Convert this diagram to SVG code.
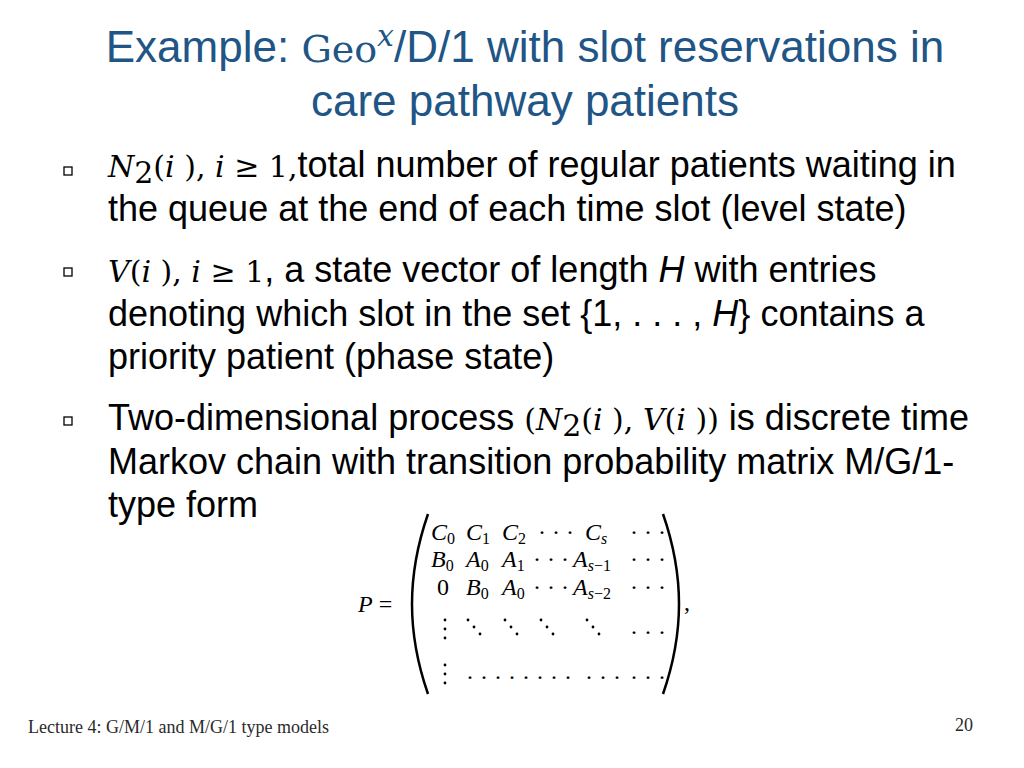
<svg xmlns="http://www.w3.org/2000/svg" width="1024" height="768" viewBox="0 0 1024 768">
<style>
.t{font-family:"Liberation Sans",Arial,sans-serif;font-size:44px;fill:#215586}
.b{font-family:"Liberation Sans",Arial,sans-serif;font-size:36px;fill:#000}
.m{font-family:"DejaVu Serif","Liberation Serif",serif;font-style:italic;font-size:30px}
.mu{font-family:"DejaVu Serif","Liberation Serif",serif;font-size:30px}
.x{font-family:"Liberation Serif","Times New Roman",serif;font-size:24px;fill:#000}
.i{font-style:italic}
.s{font-size:16px}
.f{font-family:"Liberation Serif","Times New Roman",serif;font-size:18px;fill:#2a2a2a}
.bul{fill:#fff;stroke:#000;stroke-width:1.3}
</style>
<rect width="1024" height="768" fill="#fff"/>
<text class="t" x="525" y="62" text-anchor="middle">Example: <tspan font-family="DejaVu Serif,serif" font-size="38">Geo</tspan><tspan font-family="DejaVu Serif,serif" font-style="italic" font-size="30" dy="-16">x</tspan><tspan dy="16">/D/1 with slot reservations in</tspan></text>
<text class="t" x="525" y="116" text-anchor="middle">care pathway patients</text>
<rect class="bul" x="64" y="167" width="8" height="8"/>
<rect class="bul" x="64" y="268" width="8" height="8"/>
<rect class="bul" x="64" y="417" width="8" height="8"/>
<text class="b" x="108" y="177"><tspan class="m">N</tspan><tspan class="mu" font-size="21" dy="6">2</tspan><tspan class="mu" dy="-6">(</tspan><tspan class="m">i</tspan><tspan class="mu"> ), </tspan><tspan class="m">i</tspan><tspan class="mu">  ≥  1,</tspan>total number of regular patients waiting in</text>
<text class="b" x="108" y="221">the queue at the end of each time slot (level state)</text>
<text class="b" x="108" y="282"><tspan class="m">V</tspan><tspan class="mu">(</tspan><tspan class="m">i</tspan><tspan class="mu"> ), </tspan><tspan class="m">i</tspan><tspan class="mu">  ≥  1</tspan>, a state vector of length <tspan font-style="italic">H</tspan> with entries</text>
<text class="b" x="108" y="326">denoting which slot in the set {1, . . . , <tspan font-style="italic">H</tspan>} contains a</text>
<text class="b" x="108" y="369">priority patient (phase state)</text>
<text class="b" x="108" y="430">Two-dimensional process <tspan class="mu">(</tspan><tspan class="m">N</tspan><tspan class="mu" font-size="21" dy="6">2</tspan><tspan class="mu" dy="-6">(</tspan><tspan class="m">i</tspan><tspan class="mu"> ), </tspan><tspan class="m">V</tspan><tspan class="mu">(</tspan><tspan class="m">i</tspan><tspan class="mu"> ))</tspan> is discrete time</text>
<text class="b" x="108" y="474">Markov chain with transition probability matrix M/G/1-</text>
<text class="b" x="108" y="517">type form</text>
<g id="matrix">
<text class="x" x="358" y="612"><tspan class="i">P</tspan> =</text>
<path d="M428,514 Q412,560 412,604 Q412,648 428,694" fill="none" stroke="#000" stroke-width="2.5"/>
<path d="M663,514 Q679,560 679,604 Q679,648 663,694" fill="none" stroke="#000" stroke-width="2.5"/>
<text class="x" x="684" y="610">,</text>
<text class="x" y="540"><tspan x="431" class="i">C</tspan><tspan class="s" dy="4">0</tspan><tspan x="466" dy="-4" class="i">C</tspan><tspan class="s" dy="4">1</tspan><tspan x="502" dy="-4" class="i">C</tspan><tspan class="s" dy="4">2</tspan><tspan x="538" dy="-4">· · ·</tspan><tspan x="585" class="i">C</tspan><tspan class="s i" dy="4">s</tspan><tspan x="630" dy="-4">· · ·</tspan></text>
<text class="x" y="567"><tspan x="431" class="i">B</tspan><tspan class="s" dy="4">0</tspan><tspan x="466" dy="-4" class="i">A</tspan><tspan class="s" dy="4">0</tspan><tspan x="502" dy="-4" class="i">A</tspan><tspan class="s" dy="4">1</tspan><tspan x="533" dy="-4">· · ·</tspan><tspan x="573" class="i">A</tspan><tspan class="s" dy="4"><tspan class="i">s</tspan>−1</tspan><tspan x="630" dy="-4">· · ·</tspan></text>
<text class="x" y="595"><tspan x="437">0</tspan><tspan x="466" class="i">B</tspan><tspan class="s" dy="4">0</tspan><tspan x="502" dy="-4" class="i">A</tspan><tspan class="s" dy="4">0</tspan><tspan x="533" dy="-4">· · ·</tspan><tspan x="573" class="i">A</tspan><tspan class="s" dy="4"><tspan class="i">s</tspan>−2</tspan><tspan x="630" dy="-4">· · ·</tspan></text>
<g fill="#000">
<circle cx="445" cy="620" r="1.4"/><circle cx="445" cy="629" r="1.4"/><circle cx="445" cy="638" r="1.4"/>
<circle cx="468" cy="620" r="1.4"/><circle cx="474" cy="627" r="1.4"/><circle cx="480" cy="634" r="1.4"/>
<circle cx="505" cy="620" r="1.4"/><circle cx="511" cy="627" r="1.4"/><circle cx="517" cy="634" r="1.4"/>
<circle cx="541" cy="620" r="1.4"/><circle cx="547" cy="627" r="1.4"/><circle cx="553" cy="634" r="1.4"/>
<circle cx="587" cy="620" r="1.4"/><circle cx="593" cy="627" r="1.4"/><circle cx="599" cy="634" r="1.4"/>
<circle cx="445" cy="665" r="1.4"/><circle cx="445" cy="674" r="1.4"/><circle cx="445" cy="683" r="1.4"/>
</g>
<text class="x" x="630" y="640">· · ·</text>
<text class="x" y="685"><tspan x="466">· · · · · · · ·</tspan><tspan x="585">· · ·</tspan><tspan x="630">· · ·</tspan></text>
</g>
<text class="f" x="28" y="733">Lecture 4: G/M/1 and M/G/1 type models</text>
<text class="f" x="955" y="731">20</text>
</svg>
